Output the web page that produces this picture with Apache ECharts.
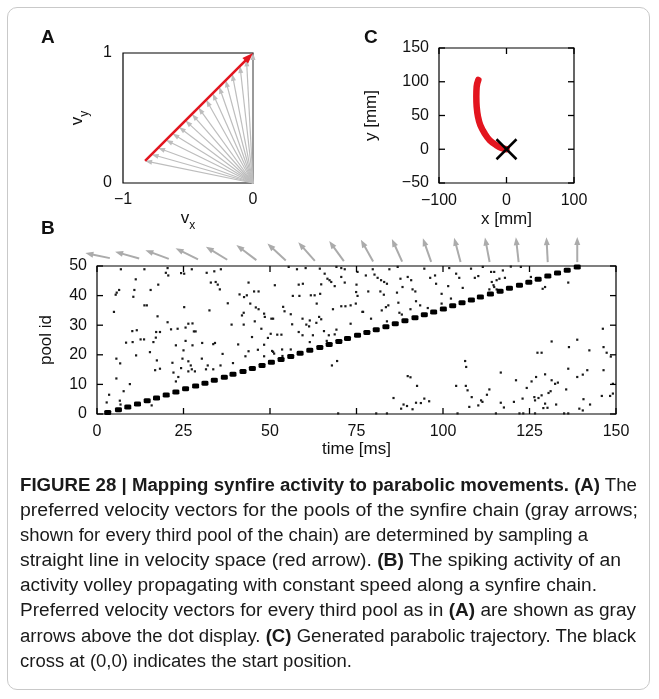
<!DOCTYPE html>
<html>
<head>
<meta charset="utf-8">
<script src="https://cdn.jsdelivr.net/npm/echarts@6/dist/echarts.min.js"></script>
<style>
  html, body { margin: 0; padding: 0; background: #fff; }
  #wrap { position: relative; width: 659px; height: 699px; overflow: hidden; }
  #frame { position: absolute; left: 7px; top: 7px; width: 643px; height: 683px; border: 1px solid #c9c9c9; border-radius: 10px; box-sizing: border-box; }
  #chart { position: absolute; left: 0; top: 0; width: 659px; height: 699px; }
  .cap { position: absolute; left: 20px; white-space: nowrap; font-family: "Liberation Sans Narrow", "Liberation Sans", Arial, sans-serif; font-size: 18px; line-height: 22px; color: #1a1a1a; transform-origin: 0 50%; }
  .cap b { font-weight: bold; }
</style>
</head>
<body>
<div id="wrap">
  <div id="frame"></div>
  <div id="chart"></div>
  <div class="cap" style="top:474px" data-w="617"><b>FIGURE 28 | Mapping synfire activity to parabolic movements. (A)</b> The</div>
  <div class="cap" style="top:499px" data-w="618">preferred velocity vectors for the pools of the synfire chain (gray arrows;</div>
  <div class="cap" style="top:524px" data-w="568">shown for every third pool of the chain) are determined by sampling a</div>
  <div class="cap" style="top:549px" data-w="601">straight line in velocity space (red arrow). <b>(B)</b> The spiking activity of an</div>
  <div class="cap" style="top:574px" data-w="577">activity volley propagating with constant speed along a synfire chain.</div>
  <div class="cap" style="top:599px" data-w="616">Preferred velocity vectors for every third pool as in <b>(A)</b> are shown as gray</div>
  <div class="cap" style="top:625px" data-w="616">arrows above the dot display. <b>(C)</b> Generated parabolic trajectory. The black</div>
  <div class="cap" style="top:650px" data-w="332">cross at (0,0) indicates the start position.</div>
</div>
<script>
// ---------------- data ----------------
// Panel A: preferred velocity vectors (every third pool)
const prefVx = [-0.83, -0.78, -0.73, -0.67, -0.62, -0.57, -0.52, -0.47, -0.42, -0.36, -0.31, -0.26, -0.21, -0.16, -0.10, -0.05, 0];
const prefVy = [0.17, 0.22, 0.27, 0.33, 0.38, 0.43, 0.48, 0.53, 0.58, 0.64, 0.69, 0.74, 0.79, 0.84, 0.90, 0.95, 1.0];
const redArrowFrom = [-0.83, 0.17];
const redArrowTo = [0, 1];

// Panel C: trajectory (mm)
const trajX = [0, -7.7, -15.1, -24.9, -32.3, -38.8, -42.2, -44.2, -44.7, -44.2, -41.7];
const trajY = [0, 2.0, 6.0, 13.4, 23.3, 35.7, 48.1, 63.0, 77.9, 92.8, 102.7];
const startCross = [0, 0];

// tick values
const ticksCx = [-100, 0, 100];
const ticksCy = [-50, 0, 50, 100, 150];
const ticksBx = [0, 25, 50, 75, 100, 125, 150];
const ticksBy = [0, 10, 20, 30, 40, 50];

// Panel B: arrow row positions (time, ms) and the synfire volley
const arrowRowTime = [2.3, 10.8, 19.4, 27.9, 36.4, 44.9, 53.5, 62.0, 70.5, 79.1, 87.6, 96.1, 104.7, 113.2, 121.7, 130.2, 138.8];
const arrowRowLevel = 53;
const chainTime = [3.1, 6.2, 8.9, 11.7, 14.5, 17.2, 20.0, 22.8, 25.6, 28.5, 31.2, 33.9, 36.8,
  39.3, 42.2, 44.9, 47.7, 50.4, 53.2, 56.0, 58.7, 61.5, 64.4, 67.1, 69.9, 72.4, 75.3,
  78.0, 80.7, 83.5, 86.2, 89.0, 91.9, 94.6, 97.3, 100.1, 102.8, 105.5, 108.2, 110.8, 113.7,
  116.5, 119.2, 122.1, 124.8, 127.5, 130.3, 133.1, 135.9, 138.8];
const chainPool = [0.5, 1.4, 2.4, 3.4, 4.5, 5.4, 6.4, 7.4, 8.5, 9.5, 10.4, 11.4, 12.4,
  13.4, 14.4, 15.4, 16.4, 17.5, 18.4, 19.4, 20.5, 21.5, 22.5, 23.5, 24.5, 25.5, 26.6,
  27.5, 28.5, 29.5, 30.5, 31.5, 32.5, 33.5, 34.5, 35.5, 36.6, 37.6, 38.5, 39.5, 40.5,
  41.5, 42.5, 43.5, 44.5, 45.5, 46.6, 47.6, 48.6, 49.7];
// background spikes [time ms, pool id]
const spikes = [
 [6.9,48.9],[13.7,48.9],[20.4,49.3],[19.9,47.7],[20.6,46.8],[24.3,47.6],[25.2,47.4],[27.4,48.9],[31.7,47.7],[33.9,48.2],[35.8,48.9],[34.3,44.6],[32.9,44.4],[34.9,43.7],[11.2,45.5],[17.7,43.7],[6.4,41.9],[5.7,41.0],[5.4,40.3],[10.8,41.9],[10.5,39.6],[15.5,41.9],[13.7,36.7],[14.4,36.7],[37.8,37.4],[35.5,42.1],[25.2,36.1],[4.9,34.5],[32.5,35.0],[17.5,33.0],[20.4,31.0],[26.4,30.5],[27.6,30.6],[25.6,29.2],[21.4,28.6],[23.3,28.8],[28.0,27.9],[28.5,27.9],[10.2,28.0],[11.5,28.3],[17.1,27.7],[18.2,27.7],[12.6,25.2],[13.6,25.2],[10.3,24.3],[8.4,24.1],[25.6,24.7],[30.4,24.0],[33.6,23.6],[34.1,24.0],[36.3,20.3],[22.8,23.2],[17.0,25.8],[16.3,24.3],[11.3,19.8],[15.3,20.9],[27.6,23.2],[25.0,21.5],[5.6,18.7],[6.7,17.1],[17.3,18.1],[21.8,17.3],[24.7,18.7],[26.4,17.8],[27.1,16.4],[27.4,15.1],[30.3,18.7],[31.5,15.1],[32.0,16.4],[35.7,16.4],[33.6,15.1],[16.8,14.8],[18.2,15.3],[24.3,15.5],[23.5,12.5],[22.8,11.0],[26.4,14.4],[28.3,14.4],[22.1,14.0],[5.6,12.0],[9.5,10.1],[7.7,7.7],[3.5,6.5],[6.6,4.5],[6.8,3.2],[2.8,3.9],[15.8,2.9],
 [55.4,49.7],[57.8,48.9],[60.3,49.3],[64.4,49.1],[69.2,49.7],[70.6,49.3],[71.6,48.9],[65.8,47.4],[66.6,45.7],[67.2,45.2],[67.7,44.6],[70.6,46.3],[71.6,44.4],[75.3,48.0],[43.8,44.4],[51.4,43.5],[58.3,43.7],[59.5,44.0],[64.8,43.8],[68.7,43.2],[75.0,43.7],[45.4,41.4],[46.7,41.4],[41.2,40.4],[42.5,39.5],[43.3,40.1],[56.6,39.9],[58.5,39.9],[61.8,40.1],[62.9,40.1],[64.5,40.6],[74.9,41.2],[75.3,39.9],[63.5,37.3],[44.3,37.3],[45.9,36.0],[46.7,35.4],[53.8,36.2],[54.2,34.7],[68.2,35.4],[70.6,36.4],[71.8,36.4],[73.3,36.7],[74.8,37.3],[76.7,34.5],[42.4,34.2],[41.9,33.3],[48.3,33.9],[50.4,32.2],[50.9,32.2],[56.0,33.7],[59.4,32.2],[64.2,32.8],[61.5,31.6],[63.4,30.8],[64.8,32.0],[38.9,30.2],[42.4,30.2],[45.6,31.3],[48.5,32.8],[56.4,30.3],[60.5,30.2],[61.3,29.6],[65.6,28.0],[69.2,28.5],[73.3,30.5],[47.5,28.8],[50.2,27.1],[52.1,26.8],[53.3,26.8],[58.3,27.7],[59.4,26.6],[62.4,26.6],[67.0,26.6],[68.7,26.9],[44.8,26.0],[49.4,25.7],[40.8,23.5],[48.3,23.4],[61.5,24.3],[66.4,24.7],[69.5,24.3],[43.8,21.2],[46.5,21.7],[50.6,21.3],[53.5,21.8],[56.0,21.8],[50.9,21.0],[42.9,19.5],[48.3,19.5],[51.2,20.4],[53.6,19.6],[39.3,17.2],[67.9,16.4],[69.4,17.9],[69.7,0.2],
 [79.7,48.9],[84.5,48.9],[86.9,49.7],[94.6,49.1],[101.8,49.3],[108.1,49.1],[111.5,49.7],[77.7,46.8],[80.2,47.1],[81.1,46.0],[82.1,45.2],[83.0,44.6],[83.8,44.0],[87.7,45.7],[89.8,46.3],[90.8,45.2],[96.3,46.0],[97.7,46.8],[103.8,47.4],[104.7,46.0],[109.2,46.0],[110.2,46.6],[113.9,48.0],[114.1,44.6],[114.8,42.9],[78.4,41.4],[81.9,41.4],[86.7,41.0],[88.3,42.9],[91.2,42.1],[92.0,41.4],[98.0,44.0],[101.5,43.2],[99.6,40.6],[105.7,42.6],[113.4,42.1],[82.9,40.3],[87.1,37.6],[83.5,36.1],[84.2,36.7],[92.2,38.1],[93.4,36.7],[90.6,35.4],[95.6,35.8],[99.6,37.3],[102.3,39.0],[76.9,34.5],[82.3,35.0],[87.4,34.2],[88.1,33.6],[79.2,32.2],[83.8,31.3],[106.4,17.9],[106.7,15.9],[90.6,12.4],[89.8,12.8],[92.5,9.5],[103.8,9.5],[106.6,9.5],[107.1,8.0],[113.4,8.3],[112.7,6.5],[108.3,5.7],[111.0,4.6],[111.4,4.1],[85.7,5.4],[94.6,5.2],[96.0,4.3],[92.2,3.8],[93.6,3.7],[88.6,3.2],[87.9,1.8],[91.2,1.6],[107.6,2.4],[110.2,2.9],[80.7,0.2],[83.8,0.2],[104.2,0.2],[89.6,2.7],
 [114.8,48.0],[115.5,45.2],[116.3,45.7],[117.9,46.0],[115.5,42.1],[114.6,43.5],[117.3,48.5],[119.6,49.8],[122.5,49.7],[125.4,46.3],[128.8,42.3],[129.5,42.9],[136.2,44.4],[146.2,28.8],[131.4,24.5],[138.8,25.1],[136.4,22.6],[127.3,20.7],[128.5,20.7],[142.3,21.5],[146.4,22.6],[147.3,20.7],[148.5,19.4],[116.7,14.0],[121.1,11.4],[125.6,11.0],[124.2,8.8],[126.9,12.5],[129.5,13.4],[131.4,11.4],[132.4,10.2],[133.2,10.6],[136.2,15.3],[138.8,12.5],[140.4,13.3],[141.7,14.8],[146.4,14.8],[149.1,10.2],[149.1,6.9],[135.6,8.3],[131.1,7.7],[130.5,7.1],[128.5,6.3],[126.4,5.7],[127.6,5.4],[126.6,4.6],[123.0,5.2],[120.5,4.1],[116.7,3.8],[117.6,2.2],[129.5,3.5],[129.0,2.0],[130.2,2.1],[132.7,3.2],[140.6,5.0],[142.5,3.2],[139.4,1.8],[140.4,1.2],[145.9,6.1],[148.3,6.1],[122.1,0.2],[123.2,0.2],[126.6,0.2],[135.0,0.2],[136.2,0.2],[115.3,0.2]
];

// ---------------- chart ----------------
const FONT = '"Liberation Sans", Arial, Helvetica, sans-serif';
const fmt = v => String(v).replace('-', '\u2212');

function axis(o) {
  return Object.assign({
    type: 'value',
    splitLine: { show: false },
    axisLine: { show: false, onZero: false },
    axisTick: { show: false },
    axisLabel: { color: '#111', fontSize: 16, fontFamily: FONT, formatter: fmt },
    nameLocation: 'middle',
    nameTextStyle: { color: '#111', fontSize: 17, fontFamily: FONT }
  }, o);
}
const subRich = {
  v: { fontSize: 17, fontFamily: FONT, color: '#111', lineHeight: 22, verticalAlign: 'top' },
  s: { fontSize: 12, fontFamily: FONT, color: '#111', lineHeight: 12, verticalAlign: 'bottom' }
};

function arrowGroup(p0, p1, headLen, headW, color, lw) {
  const dx = p1[0] - p0[0], dy = p1[1] - p0[1];
  const len = Math.hypot(dx, dy) || 1;
  const ux = dx / len, uy = dy / len;
  const bx = p1[0] - ux * headLen, by = p1[1] - uy * headLen;
  const nx = -uy, ny = ux;
  return {
    type: 'group',
    children: [
      { type: 'line', shape: { x1: p0[0], y1: p0[1], x2: bx + ux * 1, y2: by + uy * 1 }, style: { stroke: color, lineWidth: lw } },
      { type: 'polygon', shape: { points: [[p1[0], p1[1]], [bx + nx * headW / 2, by + ny * headW / 2], [bx - nx * headW / 2, by - ny * headW / 2]] }, style: { fill: color } }
    ]
  };
}

// inward tick marks on all four sides of a panel (drawn as thin filled rects)
function tickSeries(xi, yi, xTicks, yTicks, xr, yr) {
  return {
    type: 'custom', xAxisIndex: xi, yAxisIndex: yi, clip: false, z: 10, silent: true,
    data: xTicks.map(v => [v, 0]).concat(yTicks.map(v => [v, 1])),
    renderItem: (params, api) => {
      const v = api.value(0), k = api.value(1), L = 6, W = 1.3;
      if (k === 0) {
        const b = api.coord([v, yr[0]]), t = api.coord([v, yr[1]]);
        return { type: 'group', children: [
          { type: 'rect', shape: { x: b[0] - W / 2, y: b[1] - L, width: W, height: L }, style: { fill: '#000' } },
          { type: 'rect', shape: { x: t[0] - W / 2, y: t[1], width: W, height: L }, style: { fill: '#000' } }
        ] };
      }
      const l = api.coord([xr[0], v]), r = api.coord([xr[1], v]);
      return { type: 'group', children: [
        { type: 'rect', shape: { x: l[0], y: l[1] - W / 2, width: L, height: W }, style: { fill: '#000' } },
        { type: 'rect', shape: { x: r[0] - L, y: r[1] - W / 2, width: L, height: W }, style: { fill: '#000' } }
      ] };
    }
  };
}

const chart = echarts.init(document.getElementById('chart'), null, { renderer: 'canvas' });
const option = {
  animation: false,
  grid: [
    { left: 123, top: 53, width: 130, height: 130, show: true, borderColor: '#000', borderWidth: 1.2, backgroundColor: 'transparent' },
    { left: 439, top: 48, width: 135, height: 135, show: true, borderColor: '#000', borderWidth: 1.2, backgroundColor: 'transparent' },
    { left: 97, top: 266, width: 519, height: 148, show: true, borderColor: '#000', borderWidth: 1.2, backgroundColor: 'transparent' }
  ],
  xAxis: [
    axis({ gridIndex: 0, min: -1, max: 0, interval: 1, axisLabel: { color: '#111', fontSize: 16, fontFamily: FONT, formatter: fmt, margin: 9 },
      name: '{v|v}{s|x}', nameGap: 27, nameTextStyle: { rich: subRich } }),
    axis({ gridIndex: 1, min: -100, max: 100, interval: 100, position: 'bottom', name: 'x [mm]', nameGap: 28, axisLabel: { color: '#111', fontSize: 16, fontFamily: FONT, formatter: fmt, margin: 10 } }),
    axis({ gridIndex: 2, min: 0, max: 150, interval: 25, position: 'bottom', name: 'time [ms]', nameGap: 27, axisLabel: { color: '#111', fontSize: 16, fontFamily: FONT, formatter: fmt, margin: 10 } })
  ],
  yAxis: [
    axis({ gridIndex: 0, min: 0, max: 1, interval: 1, axisLabel: { color: '#111', fontSize: 16, fontFamily: FONT, formatter: fmt, margin: 11 },
      name: '{v|v}{s|y}', nameGap: 32, nameRotate: 90, nameTextStyle: { rich: subRich } }),
    axis({ gridIndex: 1, min: -50, max: 150, interval: 50, position: 'left', name: 'y [mm]', nameGap: 59, nameRotate: 90, axisLabel: { color: '#111', fontSize: 16, fontFamily: FONT, formatter: fmt, margin: 10 } }),
    axis({ gridIndex: 2, min: 0, max: 50, interval: 10, position: 'left', name: 'pool id', nameGap: 42, nameRotate: 90, axisLabel: { color: '#111', fontSize: 16, fontFamily: FONT, formatter: fmt, margin: 10 } })
  ],
  series: [
    {
      type: 'custom', name: 'prefVectors', xAxisIndex: 0, yAxisIndex: 0, clip: false,
      data: prefVx.map((vx, i) => [0, 0, vx, prefVy[i]]),
      renderItem: (params, api) => {
        const p0 = api.coord([api.value(0), api.value(1)]);
        const p1 = api.coord([api.value(2), api.value(3)]);
        return arrowGroup(p0, p1, 7, 5, '#bdbdbd', 1.2);
      }
    },
    {
      type: 'custom', name: 'redArrow', xAxisIndex: 0, yAxisIndex: 0, clip: false, z: 5,
      data: [[redArrowFrom[0], redArrowFrom[1], redArrowTo[0], redArrowTo[1]]],
      renderItem: (params, api) => {
        const p0 = api.coord([api.value(0), api.value(1)]);
        const p1 = api.coord([api.value(2), api.value(3)]);
        return arrowGroup(p0, p1, 11, 8, '#e3151f', 2.6);
      }
    },
    {
      type: 'line', name: 'trajectory', xAxisIndex: 1, yAxisIndex: 1, smooth: 0.4, symbol: 'none',
      data: trajX.map((x, i) => [x, trajY[i]]),
      lineStyle: { color: '#e3151f', width: 6.5, cap: 'round', join: 'round' }
    },
    {
      type: 'custom', name: 'start', xAxisIndex: 1, yAxisIndex: 1, clip: false, z: 6,
      data: [startCross],
      renderItem: (params, api) => {
        const p = api.coord([api.value(0), api.value(1)]);
        const r = 10;
        return { type: 'group', children: [
          { type: 'line', shape: { x1: p[0] - r, y1: p[1] - r, x2: p[0] + r, y2: p[1] + r }, style: { stroke: '#000', lineWidth: 2.5 } },
          { type: 'line', shape: { x1: p[0] - r, y1: p[1] + r, x2: p[0] + r, y2: p[1] - r }, style: { stroke: '#000', lineWidth: 2.5 } }
        ] };
      }
    },
    tickSeries(1, 1, ticksCx, ticksCy, [-100, 100], [-50, 150]),
    {
      type: 'scatter', name: 'spikes', xAxisIndex: 2, yAxisIndex: 2, symbol: 'rect', symbolSize: 2.2,
      itemStyle: { color: '#1a1a1a', opacity: 1 }, data: spikes, clip: false
    },
    {
      type: 'scatter', name: 'volley', xAxisIndex: 2, yAxisIndex: 2, symbol: 'roundRect', symbolSize: [7, 5],
      itemStyle: { color: '#000', opacity: 1 }, data: chainTime.map((t, i) => [t, chainPool[i]]), clip: false
    },
    tickSeries(2, 2, ticksBx, ticksBy, [0, 150], [0, 50]),
    {
      type: 'custom', name: 'rowArrows', xAxisIndex: 2, yAxisIndex: 2, clip: false,
      data: arrowRowTime.map((t, i) => [t, arrowRowLevel, prefVx[i], prefVy[i]]),
      renderItem: (params, api) => {
        const a = api.coord([api.value(0), api.value(1)]);
        const vx = api.value(2), vy = api.value(3);
        const n = Math.hypot(vx, vy);
        const ux = vx / n, uy = -vy / n, L = 25;
        const tail = [a[0] - ux * 0.2 * L, a[1] - uy * 0.2 * L];
        const head = [a[0] + ux * 0.8 * L, a[1] + uy * 0.8 * L];
        return arrowGroup(tail, head, 8, 6, '#ababab', 2);
      }
    }
  ],
  graphic: [
    { type: 'text', left: 41, top: 28, style: { text: 'A', font: 'bold 19px ' + FONT, fill: '#111' } },
    { type: 'text', left: 364, top: 28, style: { text: 'C', font: 'bold 19px ' + FONT, fill: '#111' } },
    { type: 'text', left: 41, top: 219, style: { text: 'B', font: 'bold 19px ' + FONT, fill: '#111' } }
  ]
};
chart.setOption(option);

// fit caption lines to their measured widths in the reference
document.querySelectorAll('.cap').forEach(el => {
  const target = parseFloat(el.dataset.w);
  const w = el.getBoundingClientRect().width;
  if (w > 0) el.style.transform = 'scaleX(' + (target / w) + ')';
});
</script>
</body>
</html>
